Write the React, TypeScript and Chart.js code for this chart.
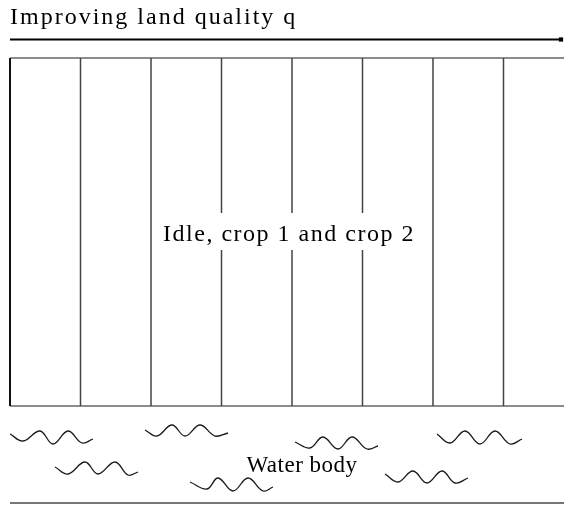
import React, { useEffect, useRef } from "react";
import { Chart, registerables } from "chart.js";

Chart.register(...registerables);

// Diagram coordinate system (x: left→right, y: top→bottom)
const columnEdges = [10, 80.5, 151, 221.5, 292, 362.5, 433, 503.5];
const boxTop = 58;
const boxBottom = 406;
const boxRight = 564;
const arrowY = 39.5;
const arrowStart = 10;
const arrowEnd = 561;
const groundY = 503;

const waveXs = [
  [10, 23, 40, 53, 68, 82, 93],
  [145, 157, 172, 185, 200, 215, 228],
  [55, 68, 85, 98, 115, 128, 138],
  [190, 207, 218, 233, 248, 263, 273],
  [295, 310, 323, 338, 352, 367, 378],
  [437, 450, 465, 480, 495, 510, 522],
  [385, 398, 413, 427, 442, 455, 468],
];
const waveYs = [
  [434, 441, 431, 444, 431, 443, 439],
  [430, 436, 425, 436, 425, 436, 433],
  [467, 474, 462, 474, 462, 475, 472],
  [482, 489, 478, 491, 478, 491, 487],
  [442, 448, 437, 449, 437, 449, 446],
  [434, 443, 431, 444, 431, 444, 439],
  [474, 482, 471, 483, 471, 483, 478],
];

const labelTexts = ["Improving land quality q", "Idle, crop 1 and crop 2", "Water body"];
const labelXs = [10, 289, 302];
const labelYs = [18, 235, 466];
const labelAligns: CanvasTextAlign[] = ["left", "center", "center"];
const labelSizes = [24, 24, 23];
const labelSpacing = [2, 1.5, 0.5];
const labelBoxed = [false, true, false];

const labelPlugin = {
  id: "diagramLabels",
  afterDatasetsDraw(chart: any) {
    const { ctx, scales } = chart;
    ctx.save();
    ctx.textBaseline = "middle";
    labelTexts.forEach((t, i) => {
      ctx.font = `${labelSizes[i]}px 'Liberation Serif', 'Times New Roman', serif`;
      (ctx as any).letterSpacing = `${labelSpacing[i]}px`;
      ctx.textAlign = labelAligns[i];
      const px = scales.x.getPixelForValue(labelXs[i]);
      const py = scales.y.getPixelForValue(labelYs[i]);
      if (labelBoxed[i]) {
        const w = ctx.measureText(t).width;
        ctx.fillStyle = "#fff";
        ctx.fillRect(px - w / 2 - 4, py - 22, w + 8, 37);
      }
      ctx.fillStyle = "#000";
      ctx.fillText(t, px, py);
    });
    ctx.restore();
  },
};

export default function App() {
  const ref = useRef<HTMLCanvasElement>(null);
  useEffect(() => {
    if (!ref.current) return;
    const line = (data: { x: number; y: number }[], color: string, width: number, extra: any = {}) => ({
      data,
      borderColor: color,
      borderWidth: width,
      pointRadius: 0,
      fill: false,
      clip: false,
      tension: 0,
      ...extra,
    });
    const datasets: any[] = [];
    columnEdges.forEach((x, i) => {
      datasets.push(
        line(
          [
            { x, y: boxTop },
            { x, y: boxBottom },
          ],
          i === 0 ? "#111" : "#444",
          i === 0 ? 2 : 1.5
        )
      );
    });
    datasets.push(line([{ x: columnEdges[0], y: boxTop }, { x: boxRight, y: boxTop }], "#666", 1.5));
    datasets.push(line([{ x: columnEdges[0], y: boxBottom }, { x: boxRight, y: boxBottom }], "#666", 1.5));
    datasets.push(
      line([{ x: arrowStart, y: arrowY }, { x: arrowEnd, y: arrowY }], "#000", 2, {
        pointRadius: [0, 3],
        pointStyle: "rect",
        pointBackgroundColor: "#000",
        pointBorderColor: "#000",
        pointBorderWidth: 0,
      })
    );
    waveXs.forEach((xs, i) => {
      datasets.push(
        line(
          xs.map((x, j) => ({ x, y: waveYs[i][j] })),
          "#1a1a1a",
          1.3,
          { tension: 0.4, cubicInterpolationMode: "default" }
        )
      );
    });
    datasets.push(line([{ x: columnEdges[0], y: groundY }, { x: boxRight, y: groundY }], "#777", 2));

    const chart = new Chart(ref.current, {
      type: "line",
      data: { datasets },
      options: {
        animation: false,
        responsive: false,
        devicePixelRatio: 1,
        layout: { padding: 0, autoPadding: false },
        plugins: { legend: { display: false }, tooltip: { enabled: false }, title: { display: false } },
        scales: {
          x: { type: "linear", min: 0, max: 564, display: false },
          y: { type: "linear", min: 0, max: 506, reverse: true, display: false },
        },
        events: [],
      },
      plugins: [labelPlugin],
    });
    return () => chart.destroy();
  }, []);
  return (
    <div style={{ position: "absolute", left: 0, top: 0, width: 564, height: 506, background: "#fff" }}>
      <canvas ref={ref} width={564} height={506} style={{ display: "block" }} />
    </div>
  );
}
